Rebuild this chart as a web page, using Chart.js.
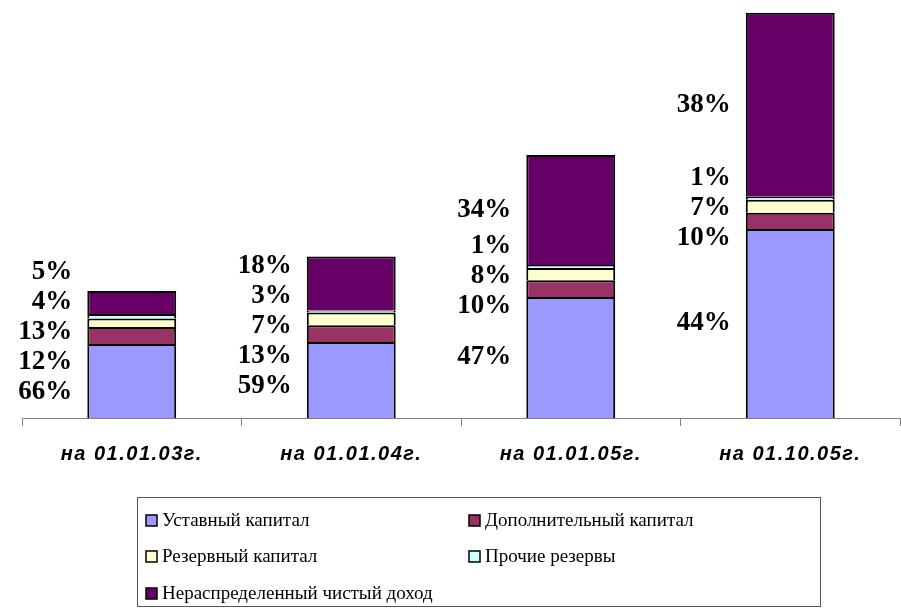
<!DOCTYPE html>
<html>
<head>
<meta charset="utf-8">
<script src="https://cdn.jsdelivr.net/npm/chart.js@4.4.0/dist/chart.umd.min.js"></script>
<style>
    html, body { margin: 0; padding: 0; background: #fff; }
</style>
</head>
<body>
<canvas id="bar" width="901" height="614"></canvas>
<script>
var dates = ['на 01.01.03г.', 'на 01.01.04г.', 'на 01.01.05г.', 'на 01.10.05г.'];
var seriesNames = ['Уставный капитал', 'Дополнительный капитал', 'Резервный капитал', 'Прочие резервы', 'Нераспределенный чистый доход'];

// bar segment sizes
var ustavny = [740, 760, 1210, 1890];
var dopoln = [170, 167, 167, 163];
var rezerv = [85, 127, 123, 130];
var prochie = [45, 20, 30, 30];
var neraspr = [230, 540, 1100, 1840];

// percent labels as printed next to the bars
var pctUstavny = ['66%', '59%', '47%', '44%'];
var pctDopoln = ['12%', '13%', '10%', '10%'];
var pctRezerv = ['13%', '7%', '8%', '7%'];
var pctProchie = ['4%', '3%', '1%', '1%'];
var pctNeraspr = ['5%', '18%', '34%', '38%'];

document.addEventListener("DOMContentLoaded", function () {
    var ctx = document.getElementById('bar').getContext('2d');
    var colors = ['#9999FF', '#993366', '#FFFFCC', '#CCFFFF', '#660066'];
    var values = [ustavny, dopoln, rezerv, prochie, neraspr];
    var pcts = [pctUstavny, pctDopoln, pctRezerv, pctProchie, pctNeraspr];

    var datasets = values.map(function (v, i) {
        return {
            label: seriesNames[i],
            data: v,
            backgroundColor: colors[i],
            borderColor: '#000',
            borderWidth: 2,
            borderSkipped: 'start',
            barPercentage: 0.405,
            categoryPercentage: 1
        };
    });

    // percent labels to the left of each bar, spread so they don't overlap
    var pctLabels = {
        id: 'pctLabels',
        afterDatasetsDraw: function (chart) {
            var c = chart.ctx;
            c.save();
            c.font = 'bold 27px "Liberation Serif", "Times New Roman", serif';
            c.fillStyle = '#000';
            c.textAlign = 'right';
            c.textBaseline = 'middle';
            for (var i = 0; i < dates.length; i++) {
                var pos = [], left = 0;
                for (var d = 0; d < datasets.length; d++) {
                    var el = chart.getDatasetMeta(d).data[i];
                    pos.push((el.y + el.base) / 2);
                    left = el.x - el.width / 2;
                }
                var gap = 30;
                for (var it = 0; it < 300; it++) {
                    for (var k = 0; k < pos.length - 1; k++) {
                        var dd = pos[k] - pos[k + 1];
                        if (dd < gap) {
                            var s = (gap - dd) / 2;
                            pos[k] += s;
                            pos[k + 1] -= s;
                        }
                    }
                }
                for (var d2 = 0; d2 < pos.length; d2++) {
                    c.fillText(pcts[d2][i], left - 15, pos[d2]);
                }
            }
            c.restore();
        }
    };

    // excel-like boxed legend in two columns
    var boxLegend = {
        id: 'boxLegend',
        afterDraw: function (chart) {
            var c = chart.ctx;
            c.save();
            c.strokeStyle = '#555';
            c.lineWidth = 1;
            c.strokeRect(137.5, 497.5, 683, 109);
            c.font = '19px "Liberation Serif", "Times New Roman", serif';
            c.textBaseline = 'middle';
            c.textAlign = 'left';
            var colX = [146, 469];
            var rowY = [520, 556, 593];
            for (var d = 0; d < datasets.length; d++) {
                var x = colX[d % 2], y = rowY[Math.floor(d / 2)];
                c.fillStyle = colors[d];
                c.fillRect(x, y - 5, 11, 11);
                c.strokeStyle = '#000';
                c.lineWidth = 1.5;
                c.strokeRect(x, y - 5, 11, 11);
                c.fillStyle = '#000';
                c.fillText(seriesNames[d], x + 16, y + 1);
            }
            c.restore();
        }
    };

    // wider letter spacing for the category labels
    var spacing = {
        id: 'spacing',
        beforeDraw: function (chart) { chart.ctx.letterSpacing = '1.5px'; },
        beforeDatasetsDraw: function (chart) { chart.ctx.letterSpacing = '0px'; }
    };

    var barChart = new Chart(ctx, {
        type: 'bar',
        data: {
            labels: dates,
            datasets: datasets
        },
        options: {
            responsive: false,
            animation: false,
            devicePixelRatio: 1,
            layout: {
                padding: { left: 22, right: 1, top: 0, bottom: 132 }
            },
            scales: {
                x: {
                    stacked: true,
                    grid: {
                        offset: true,
                        drawOnChartArea: false,
                        tickLength: 8,
                        color: '#808080'
                    },
                    border: { color: '#808080' },
                    ticks: {
                        color: '#000',
                        padding: 16,
                        font: { family: '"Liberation Sans", Arial, sans-serif', size: 20, style: 'italic', weight: 'bold' }
                    }
                },
                y: {
                    stacked: true,
                    display: false,
                    min: 0,
                    max: 4180
                }
            },
            plugins: {
                legend: { display: false },
                tooltip: { enabled: false }
            }
        },
        plugins: [pctLabels, boxLegend, spacing]
    });
});
</script>
</body>
</html>
